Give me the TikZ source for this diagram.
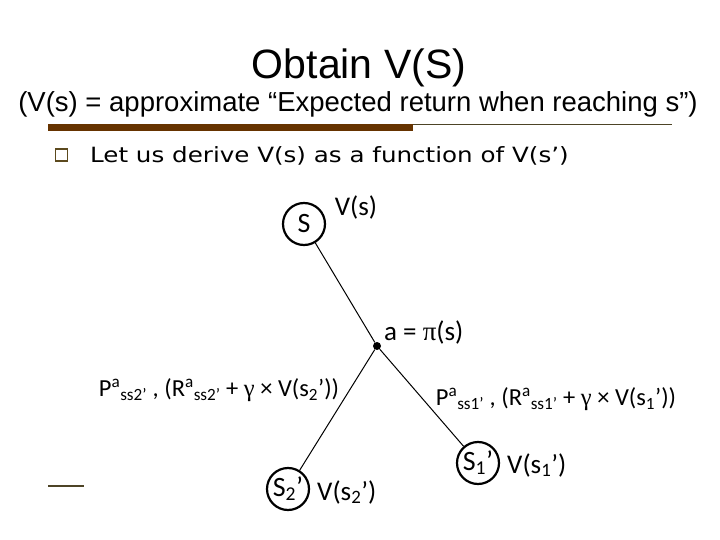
\documentclass[tikz,border=0pt]{standalone}
\usepackage{graphicx}
\usepackage{fontspec}
\setmainfont{Carlito}
\newfontfamily\titlefont{Liberation Sans}
\newfontfamily\bodyfont{DejaVu Sans}
\newfontfamily\grk{Liberation Serif}
\usetikzlibrary{positioning}
\definecolor{barbrown}{HTML}{663300}
\definecolor{ruleolive}{HTML}{4D4426}
\definecolor{bulletolive}{HTML}{5C4A1E}

\begin{document}
\begin{tikzpicture}[x=1pt, y=-1pt,
    etat/.style={circle, draw, line width=2.2pt, minimum size=42pt,
      inner sep=0pt, font=\fontsize{28}{30}\selectfont},
    lbl/.style={font=\fontsize{27}{30}\selectfont, inner sep=1pt},
    eq/.style={font=\fontsize{24.5}{30}\selectfont, inner sep=1pt},
    lien/.style={line width=1pt},
    puce/.style={draw=bulletolive, line width=1.4pt, minimum size=12pt,
      inner sep=0pt}
  ]
    \useasboundingbox (0,0) rectangle (720,540);
    % heading
    \node[font=\titlefont\fontsize{41}{44}\selectfont] (titre) at (359,68) {Obtain V(S)};
    \node[font=\titlefont\fontsize{27.5}{30}\selectfont] (soustitre) at (358,104)
      {(V(s) = approximate “Expected return when reaching s”)};
    \fill[barbrown] (48,124) rectangle (413,131);
    \draw[ruleolive, line width=0.8pt] (413,124.5) -- (672,124.5);
    \node[puce] (p1) at (61.5,155) {};
    \node[font=\bodyfont\fontsize{21}{24}\selectfont, anchor=base west, inner sep=0pt]
      (puce1) at (90,163) {\scalebox{1.17}[1]{Let us derive V(s) as a function of V(s’)}};
    % tree
    \node[etat] (s) at (304,224) {S};
    \node[circle, fill, inner sep=0pt, minimum size=8pt] (act) at (377,346) {};
    \node[etat] (s2) at (288,489) {S\textsubscript{2}’};
    \node[etat] (s1) at (478,463) {S\textsubscript{1}’};
    \draw[lien] (s) -- (act);
    \draw[lien] (act) -- (s2);
    \draw[lien] (act) -- (s1);
    \node[lbl] (vs) at (356,207) {V(s)};
    \node[lbl, anchor=west] (pol) at (383,332) {a = {\grk π}(s)};
    \node[eq] (g2) at (219,390)
      {P\textsuperscript{a}\textsubscript{ss2’} , (R\textsuperscript{a}\textsubscript{ss2’} + {\grk γ} × V(s\textsubscript{2}’))};
    \node[eq] (g1) at (556,399)
      {P\textsuperscript{a}\textsubscript{ss1’} , (R\textsuperscript{a}\textsubscript{ss1’} + {\grk γ} × V(s\textsubscript{1}’))};
    \node[lbl, anchor=west] (vs2) at (316,492) {V(s\textsubscript{2}’)};
    \node[lbl, anchor=west] (vs1) at (506,465) {V(s\textsubscript{1}’)};
    % footer mark
    \draw[ruleolive, line width=1.2pt] (48,486) -- (84,486);
\end{tikzpicture}
\end{document}
